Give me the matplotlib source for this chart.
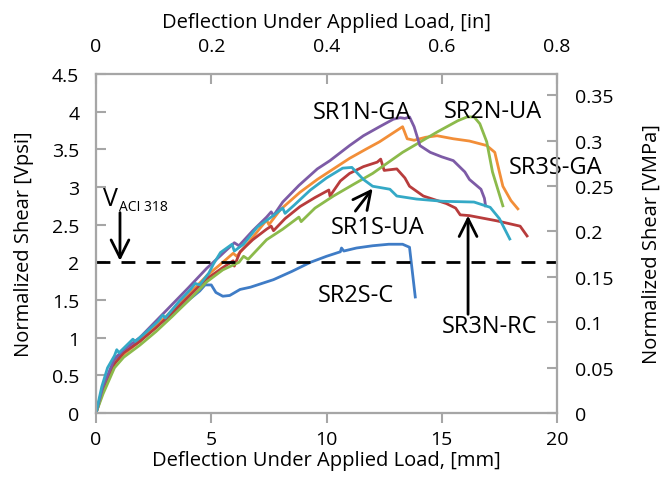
import matplotlib
matplotlib.use("Agg")
import matplotlib.pyplot as plt

plt.rcParams['font.family'] = ['Open Sans', 'DejaVu Sans']

# ---------------- data (deflection [mm], normalized shear [sqrt psi]) ----------------
sr2s_c_x = [0, 0.3, 0.8, 1.2, 1.9, 2.6, 3.1, 3.6, 4.1, 4.5, 4.73, 5.0, 5.2, 5.5, 5.8, 6.25, 6.7,
            7.7, 8.5, 9.3, 10.0, 10.6, 10.65, 10.75, 11.3, 12.0, 12.7, 13.3, 13.6, 13.85]
sr2s_c_y = [0, 0.3, 0.68, 0.8, 0.96, 1.15, 1.26, 1.38, 1.52, 1.62, 1.70, 1.70, 1.6, 1.55, 1.56, 1.64, 1.67,
            1.77, 1.88, 2.0, 2.08, 2.14, 2.19, 2.15, 2.19, 2.22, 2.24, 2.24, 2.2, 1.54]

sr3s_ga_x = [0, 0.3, 0.8, 1.2, 1.9, 2.6, 3.3, 4.1, 4.8, 5.5, 5.95, 6.1, 6.5, 7.4, 7.5, 8.0, 8.85,
             9.6, 10.3, 11.0, 11.7, 12.3, 12.9, 13.3, 13.5, 13.8, 14.3, 14.8, 15.5, 16.2, 16.95,
             17.3, 17.5, 17.65, 18.0, 18.3]
sr3s_ga_y = [0, 0.3, 0.66, 0.78, 0.95, 1.15, 1.36, 1.6, 1.82, 2.0, 2.12, 2.08, 2.22, 2.56, 2.5, 2.7, 2.93,
             3.1, 3.24, 3.38, 3.5, 3.6, 3.72, 3.8, 3.64, 3.62, 3.66, 3.68, 3.64, 3.61, 3.55,
             3.46, 3.2, 3.01, 2.82, 2.71]

sr3n_rc_x = [0, 0.3, 0.8, 1.2, 1.9, 2.6, 3.3, 4.1, 4.8, 5.5, 5.95, 6.0, 6.25, 6.8, 7.4, 7.6, 7.7,
             8.2, 8.85, 9.5, 10.1, 10.15, 10.6, 11.0, 11.6, 12.2, 12.35, 12.5, 13.05, 13.4, 13.6,
             14.2, 15.2, 15.6, 15.8, 16.2, 17.4, 18.4, 18.7]
sr3n_rc_y = [0, 0.3, 0.65, 0.8, 0.95, 1.13, 1.33, 1.57, 1.78, 1.93, 2.02, 1.95, 2.14, 2.3, 2.44, 2.48, 2.42,
             2.58, 2.74, 2.86, 2.96, 2.88, 3.08, 3.18, 3.27, 3.33, 3.37, 3.22, 3.24, 3.12, 3.01,
             2.88, 2.78, 2.72, 2.63, 2.62, 2.55, 2.48, 2.35]

sr2n_ua_x = [0, 0.3, 0.8, 1.2, 1.9, 2.6, 3.3, 4.1, 4.8, 5.5, 6.2, 6.4, 6.6, 7.4, 8.1, 8.8, 8.9,
             9.5, 10.3, 11.2, 12.0, 13.3, 14.8, 15.7, 16.1, 16.4, 16.65, 16.95, 17.2, 17.65]
sr2n_ua_y = [0, 0.25, 0.6, 0.74, 0.9, 1.08, 1.28, 1.52, 1.74, 1.9, 2.0, 2.08, 2.04, 2.3, 2.44, 2.6, 2.54,
             2.72, 2.88, 3.04, 3.18, 3.46, 3.73, 3.88, 3.93, 3.93, 3.84, 3.6, 3.2, 2.75]

sr1n_ga_x = [0, 0.3, 0.8, 1.2, 1.9, 2.6, 3.3, 4.0, 4.8, 5.3, 6.0, 6.2, 6.8, 7.4, 7.6, 7.7, 8.1,
             8.8, 9.6, 10.15, 11.0, 11.6, 12.3, 12.9, 13.2, 13.4, 13.6, 13.8, 14.05, 14.5, 15.0,
             15.5, 16.0, 16.2, 16.7, 16.85, 16.9]
sr1n_ga_y = [0, 0.35, 0.72, 0.84, 1.0, 1.22, 1.44, 1.66, 1.92, 2.06, 2.26, 2.22, 2.42, 2.6, 2.67, 2.62, 2.8,
             3.02, 3.24, 3.35, 3.55, 3.68, 3.8, 3.9, 3.92, 3.91, 3.93, 3.8, 3.55, 3.46, 3.4,
             3.35, 3.2, 3.1, 2.97, 2.85, 2.75]

sr1s_ua_x = [0, 0.25, 0.5, 0.8, 0.9, 1.0, 1.4, 1.6, 1.7, 2.2, 2.7, 2.9, 3.0, 3.6, 4.1, 4.3, 4.5,
             4.9, 5.1, 5.4, 5.9, 6.0, 6.4, 7.0, 7.6, 8.1, 8.2, 8.6, 9.3, 10.0, 10.7, 11.1,
             11.6, 12.0, 12.75, 13.05, 13.9, 15.05, 16.4, 17.1, 17.5, 17.95]
sr1s_ua_y = [0, 0.35, 0.6, 0.76, 0.84, 0.8, 0.92, 0.98, 0.95, 1.08, 1.22, 1.3, 1.26, 1.48, 1.64, 1.72, 1.7,
             1.86, 1.98, 2.13, 2.24, 2.15, 2.24, 2.47, 2.6, 2.72, 2.65, 2.76, 2.96, 3.12, 3.25, 3.26,
             3.1, 3.01, 2.97, 2.88, 2.84, 2.81, 2.8, 2.73, 2.58, 2.31]

series = [
    ("SR2S-C", sr2s_c_x, sr2s_c_y, "#3F7CC6"),
    ("SR3S-GA", sr3s_ga_x, sr3s_ga_y, "#F28E38"),
    ("SR3N-RC", sr3n_rc_x, sr3n_rc_y, "#B83C3C"),
    ("SR2N-UA", sr2n_ua_x, sr2n_ua_y, "#8CBA4B"),
    ("SR1N-GA", sr1n_ga_x, sr1n_ga_y, "#7D5BA6"),
    ("SR1S-UA", sr1s_ua_x, sr1s_ua_y, "#34A9C6"),
]

v_aci = 2.0
x_ticks = [0, 5, 10, 15, 20]
y_ticks = [0, 0.5, 1, 1.5, 2, 2.5, 3, 3.5, 4, 4.5]
top_ticks = [0, 0.2, 0.4, 0.6, 0.8]
right_ticks = [0, 0.05, 0.1, 0.15, 0.2, 0.25, 0.3, 0.35]
psi_to_mpa = 0.083

# ---------------- figure ----------------
fig = plt.figure(figsize=(6.64, 4.85), dpi=100)
ax = fig.add_axes([0.1446, 0.1464, 0.6943, 0.699])

for name, xs, ys, c in series:
    ax.plot(xs, ys, color=c, lw=2.0, solid_joinstyle='round')

ax.plot([0, 20], [v_aci, v_aci], color='black', lw=2, dashes=(5, 4))

ax.set_xlim(0, 20)
ax.set_ylim(0, 4.5)
ax.set_xticks(x_ticks)
ax.set_yticks(y_ticks)
ax.set_xticklabels([f"{v:g}" for v in x_ticks])
ax.set_yticklabels([f"{v:g}" for v in y_ticks])

grey = "#A6A6A6"
fs = 14.5
tk = 14

ax.set_xlabel("Deflection Under Applied Load, [mm]", fontsize=fs, labelpad=2)
ax.set_ylabel("Normalized Shear [Vpsi]", fontsize=fs, labelpad=13)

axr = ax.twinx()
axr.set_ylim(0, 4.5 * psi_to_mpa)
axr.set_yticks(right_ticks)
axr.set_yticklabels([f"{v:g}" for v in right_ticks])
axr.set_ylabel("Normalized Shear [VMPa]", fontsize=fs, labelpad=20)

axt = ax.twiny()
axt.set_xlim(0, 0.8)
axt.set_xticks(top_ticks)
axt.set_xticklabels([f"{v:g}" for v in top_ticks])
axt.set_xlabel("Deflection Under Applied Load, [in]", fontsize=fs, labelpad=7)

for a in (ax, axr, axt):
    for s in a.spines.values():
        s.set_color(grey)
        s.set_linewidth(1.5)

ax.tick_params(axis='x', direction='out', length=7, width=1.5, color=grey, labelsize=tk, pad=5)
ax.tick_params(axis='y', direction='in', length=7, width=1.5, color=grey, labelsize=tk, pad=12)
axr.tick_params(axis='y', direction='in', length=7, width=1.5, color=grey, labelsize=tk, pad=13)
axt.tick_params(axis='x', direction='in', length=7, width=1.5, color=grey, labelsize=tk, pad=14)

# ---------------- annotations ----------------
tfs = 17
ax.text(11.54, 4.0, "SR1N-GA", fontsize=tfs, ha='center', va='center')
ax.text(17.22, 4.01, "SR2N-UA", fontsize=tfs, ha='center', va='center')
ax.text(19.96, 3.27, "SR3S-GA", fontsize=tfs, ha='center', va='center', clip_on=False)
ax.text(12.23, 2.47, "SR1S-UA", fontsize=tfs, ha='center', va='center')
ax.text(11.28, 1.57, "SR2S-C", fontsize=tfs, ha='center', va='center')
ax.text(17.09, 1.15, "SR3N-RC", fontsize=tfs, ha='center', va='center')
ax.text(0.3, 2.85, "V", fontsize=18, ha='left', va='center')
ax.text(1.0, 2.74, "ACI 318", fontsize=10, ha='left', va='center')

aprops = dict(arrowstyle='->', lw=2, color='black', mutation_scale=32, shrinkA=0, shrinkB=0)
ax.annotate("", xy=(1.04, 2.02), xytext=(1.04, 2.66), arrowprops=aprops)
ax.annotate("", xy=(12.0, 2.98), xytext=(11.25, 2.68), arrowprops=aprops)
ax.annotate("", xy=(16.14, 2.62), xytext=(16.14, 1.31), arrowprops=aprops)

fig.savefig("out.png", dpi=100)
